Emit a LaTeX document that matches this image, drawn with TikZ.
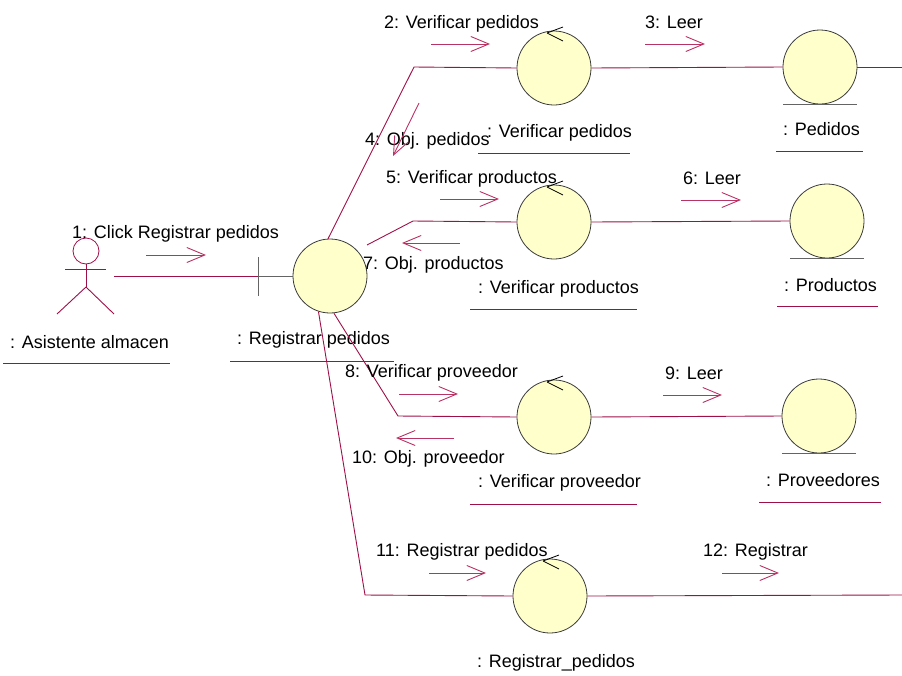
\documentclass[tikz,border=0pt]{standalone}
\usepackage{fontspec}
\setmainfont{Liberation Sans}
\usetikzlibrary{arrows.meta,calc}
\definecolor{linkc}{RGB}{160,16,72}
\definecolor{msgc}{RGB}{185,50,100}
\definecolor{objfill}{RGB}{255,255,204}
\definecolor{edgec}{RGB}{60,60,60}
\definecolor{barc}{RGB}{100,100,100}
\tikzset{
  x=1pt, y=-1pt,
  every node/.style={font=\fontsize{18}{20}\selectfont, inner sep=0pt},
  txt/.style={anchor=base west},
  obj/.style={circle, draw=edgec, fill=objfill, minimum size=74pt, line width=0.8pt},
  link/.style={draw=linkc, line width=0.9pt},
  msg/.style={draw=msgc, line width=0.9pt, -{Straight Barb[length=18pt,width=15pt,line width=0.9pt]}},
  uline/.style={draw=linkc, line width=0.9pt},
  bar/.style={draw=barc, line width=1pt},
  ctrlmark/.pic={\draw[black, line width=0.8pt] (-7,-35) -- (9,-41) (-7,-35) -- (9,-27);}
}
\begin{document}
\begin{tikzpicture}
\useasboundingbox (0,0) rectangle (902,675);

% actor
\node[circle, draw=linkc, line width=0.8pt, minimum size=26pt] (head) at (86,251) {};
\begin{scope}[link]
  \draw (65,269) -- (106,269);
  \draw (head.south) -- (86,287) coordinate (hip);
  \draw (hip) -- (57,314);
  \draw (hip) -- (114,314);
\end{scope}
\coordinate (actR) at (114,276);
\node[txt] (actlbl) at (10,348) {: Asistente almacen};
\draw[uline] (3,363) -- (170,363);

% boundary object
\node[obj] (reg) at (330,276) {};
\coordinate (bnd) at (258,276);
\draw[bar] (258,257) -- (258,296);
\draw[bar] (bnd) -- (reg.west);
\draw[link] (actR) -- (bnd);
\node[txt] (reglbl) at (237,344) {: Registrar pedidos};
\draw[uline] (230,361) -- (394,361);

% control objects
\node[obj] (vp) at (554,68) {};
\node[obj] (vpr) at (554,222) {};
\node[obj] (vpv) at (554,417) {};
\node[obj] (rp) at (550,596) {};
\pic at (vp) {ctrlmark};
\pic at (vpr) {ctrlmark};
\pic at (vpv) {ctrlmark};
\pic at (rp) {ctrlmark};

% entity objects
\node[obj] (pe) at (820,67) {};
\node[obj] (pr) at (827,221) {};
\node[obj] (pv) at (819,416) {};
\foreach \e in {pe,pr,pv}
  \draw[bar] ([xshift=-37]\e.south) -- ([xshift=37]\e.south);

% links
\coordinate (b1) at (414,67);
\coordinate (c2) at (367,245);
\coordinate (b2) at (413,221);
\coordinate (b3) at (398,416);
\coordinate (b4) at (365,595);
\coordinate (pe-out) at (902,67);
\coordinate (rp-out) at (902,595);
\draw[link] (reg.93) -- (b1) -- (vp.west);
\draw[link] (vp.east) -- (pe.west);
\draw[link] (pe.east) -- (pe-out);
\draw[link] (c2) -- (b2) -- (vpr.west);
\draw[link] (vpr.east) -- (pr.west);
\draw[link] (reg.-84) -- (b3) -- (vpv.west);
\draw[link] (vpv.east) -- (pv.west);
\draw[link] (reg.-108) -- (b4) -- (rp.west);
\draw[link] (rp.east) -- (rp-out);

% messages
\node[txt] (m1) at (72,238) {1: Click Registrar pedidos};
\draw[msg] (146,255) -- (206,255);
\node[txt] (m2) at (384,28) {2: Verificar pedidos};
\draw[msg] (431,44) -- (490,44);
\node[txt] (m3) at (645,28) {3: Leer};
\draw[msg] (645,44) -- (705,44);
\node[txt] (m4) at (365,145) {4: Obj. pedidos};
\draw[msg] (419,103) -- (393,156);
\node[txt] (m5) at (386,183) {5: Verificar productos};
\draw[msg] (440,199) -- (499,199);
\node[txt] (m6) at (683,184) {6: Leer};
\draw[msg] (681,200) -- (741,200);
\node[txt] (m7) at (363,269) {7: Obj. productos};
\draw[msg] (460,243) -- (402,243);
\node[txt] (m8) at (345,377) {8: Verificar proveedor};
\draw[msg] (399,394) -- (458,394);
\node[txt] (m9) at (665,379) {9: Leer};
\draw[msg] (663,395) -- (722,395);
\node[txt] (m10) at (352,463) {10: Obj. proveedor};
\draw[msg] (454,438) -- (396,438);
\node[txt] (m11) at (376,556) {11: Registrar pedidos};
\draw[msg] (429,573) -- (486,573);
\node[txt] (m12) at (703,556) {12: Registrar};
\draw[msg] (722,573) -- (779,573);

% object labels
\node[txt] (vplbl) at (487,137) {: Verificar pedidos};
\draw[uline] (478,153) -- (630,153);
\node[txt] (pelbl) at (783,135) {: Pedidos};
\draw[uline] (776,151) -- (863,151);
\node[txt] (vprlbl) at (478,293) {: Verificar productos};
\draw[uline] (470,309) -- (637,309);
\node[txt] (prlbl) at (784,291) {: Productos};
\draw[uline] (777,306) -- (878,306);
\node[txt] (vpvlbl) at (478,487) {: Verificar proveedor};
\draw[uline] (470,504) -- (637,504);
\node[txt] (pvlbl) at (766,486) {: Proveedores};
\draw[uline] (759,502) -- (881,502);
\node[txt] (rplbl) at (477,667) {: Registrar\_pedidos};
\end{tikzpicture}
\end{document}
